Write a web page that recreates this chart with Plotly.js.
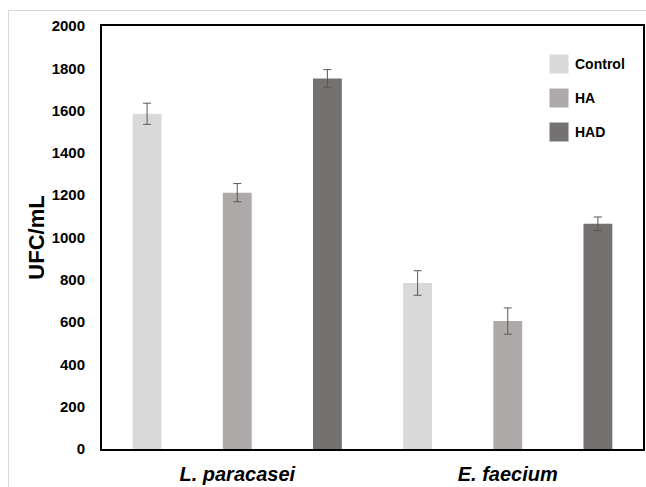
<!DOCTYPE html>
<html>
<head>
<meta charset="utf-8">
<script src="https://cdn.plot.ly/plotly-3.0.1.min.js"></script>
<style>
  html, body { margin: 0; padding: 0; background: #ffffff; overflow: hidden; }
  #chart { width: 646px; height: 487px; }
</style>
</head>
<body>
<div id="chart"></div>
<script>
// ---- data ----
const categories = ['L. paracasei', 'E. faecium'];
const seriesNames = ['Control', 'HA', 'HAD'];
const controlValues = [1585, 785];
const controlErrors = [50, 58];
const haValues = [1212, 605];
const haErrors = [43, 62];
const hadValues = [1752, 1065];
const hadErrors = [42, 32];
const yTickValues = [0, 200, 400, 600, 800, 1000, 1200, 1400, 1600, 1800, 2000];
const yTickLabels = ['0', '200', '400', '600', '800', '1000', '1200', '1400', '1600', '1800', '2000'];
const yAxisTitle = 'UFC/mL';

// ---- styling ----
const seriesColors = ['#d9d9d9', '#aeaaaa', '#767171'];
const FONT = '"Liberation Sans", Arial, sans-serif';

const seriesValues = [controlValues, haValues, hadValues];
const seriesErrors = [controlErrors, haErrors, hadErrors];

const traces = seriesNames.map((name, i) => ({
  type: 'bar',
  name: name,
  x: categories,
  y: seriesValues[i],
  marker: { color: seriesColors[i], line: { width: 0 } },
  error_y: {
    type: 'data',
    array: seriesErrors[i],
    visible: true,
    color: '#595959',
    thickness: 1,
    width: 4
  },
  showlegend: false,
  hoverinfo: 'x+y+name'
}));

// plot area pixel geometry (for paper-coordinate decorations)
const plotLeft = 102, plotRight = 643, plotTop = 26, plotBottom = 449;
const pw = plotRight - plotLeft, ph = plotBottom - plotTop;
const px = v => (v - plotLeft) / pw;
const py = v => (plotBottom - v) / ph;

const shapes = [
  // outer chart-area border (light grey)
  { type: 'rect', xref: 'paper', yref: 'paper', layer: 'below',
    x0: px(8.5), x1: px(700), y0: py(540), y1: py(10.5),
    line: { color: '#d9d9d9', width: 1 }, fillcolor: 'rgba(0,0,0,0)' }
];
const annotations = [];

// custom legend built from series names / colours
seriesNames.forEach((name, i) => {
  const cy = 64 + 34 * i;
  shapes.push({
    type: 'rect', xref: 'paper', yref: 'paper',
    x0: px(549.5), x1: px(568.5), y0: py(cy + 9.5), y1: py(cy - 9.5),
    fillcolor: seriesColors[i], line: { width: 0 }
  });
  annotations.push({
    xref: 'paper', yref: 'paper', x: px(573), y: py(cy),
    xanchor: 'left', yanchor: 'middle', showarrow: false,
    text: name,
    font: { family: FONT, size: 14, color: '#000000', weight: 'bold' }
  });
});

const layout = {
  width: 646,
  height: 487,
  margin: { l: plotLeft, r: 646 - plotRight, t: plotTop, b: 487 - plotBottom, pad: 0 },
  paper_bgcolor: '#ffffff',
  plot_bgcolor: '#ffffff',
  barmode: 'group',
  bargap: 0,
  bargroupgap: 0.68,
  showlegend: false,
  font: { family: FONT, color: '#000000' },
  xaxis: {
    type: 'category',
    showgrid: false,
    zeroline: false,
    showline: true,
    linecolor: '#000000',
    linewidth: 2,
    mirror: true,
    ticks: '',
    ticklabelstandoff: 6,
    tickfont: { family: FONT, size: 20, color: '#000000', weight: 'bold', style: 'italic' }
  },
  yaxis: {
    range: [0, 2000],
    tickmode: 'array',
    tickvals: yTickValues,
    ticktext: yTickLabels,
    showgrid: false,
    zeroline: false,
    showline: true,
    linecolor: '#000000',
    linewidth: 2,
    mirror: true,
    ticks: '',
    ticklabelstandoff: 12,
    tickfont: { family: FONT, size: 15, color: '#000000', weight: 'bold' },
    title: {
      text: yAxisTitle,
      standoff: 1,
      font: { family: FONT, size: 22, color: '#000000', weight: 'bold' }
    }
  },
  shapes: shapes,
  annotations: annotations
};

Plotly.newPlot('chart', traces, layout, { displayModeBar: false, staticPlot: true });
</script>
</body>
</html>
